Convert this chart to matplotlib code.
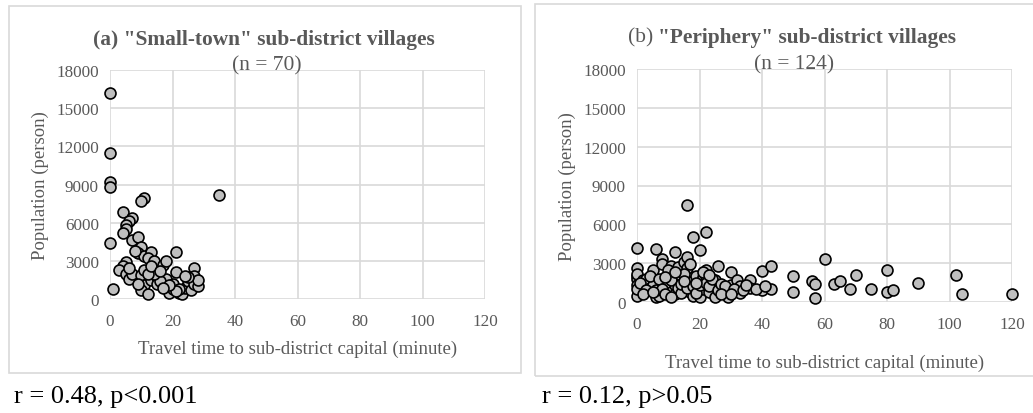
import numpy as np
import matplotlib.pyplot as plt
from matplotlib.patches import Rectangle

plt.rcParams['font.family'] = ['Liberation Serif', 'DejaVu Serif']

# ------------------------------------------------------
# DATA
# ------------------------------------------------------

# (a) Small-town sub-district villages (n = 70)
timeA = [0, 0, 0, 0, 0, 1, 35, 11, 10, 4, 7, 6, 5, 5, 4, 7, 9, 10, 9, 11,
         13, 12, 14, 17, 18, 21, 5, 4, 3, 5, 6, 7, 10, 11, 11, 10, 12, 13, 15, 15,
         18, 19, 20, 20, 21, 22, 23, 24, 25, 26, 26, 27, 27, 27, 28, 28, 25, 22, 21, 16,
         14, 12, 8, 13, 16, 19, 17, 9, 24, 6]
popA = [16200, 11500, 9200, 8800, 4400, 800, 8200, 7900, 7700, 6800, 6400, 6100, 5800, 5500, 5200, 4600, 4900, 4100, 3600, 3400,
        3700, 3200, 3000, 2700, 3000, 3700, 2900, 2600, 2300, 2000, 1600, 2000, 1900, 2300, 1100, 700, 400, 1500, 1700, 1200,
        1600, 500, 800, 1200, 2100, 500, 400, 900, 1400, 700, 1700, 2400, 1800, 1200, 1000, 1500, 1700, 800, 600, 1400,
        2000, 2000, 3800, 2600, 2200, 1100, 900, 1200, 1800, 2400]

# (b) Periphery sub-district villages (n = 124)
timeB = [0, 0, 0, 0, 0, 0, 0, 0, 2, 3, 4, 5, 5, 6, 6, 7, 7, 6, 8, 8,
         9, 10, 10, 11, 12, 12, 11, 13, 13, 14, 15, 15, 16, 16, 16, 17, 17, 18, 18, 18,
         19, 20, 20, 21, 21, 22, 22, 22, 23, 25, 25, 25, 26, 28, 29, 30, 30, 32, 33, 33,
         36, 36, 40, 40, 43, 43, 50, 50, 56, 57, 57, 60, 63, 65, 68, 70, 75, 80, 80, 82,
         90, 102, 104, 120, 1, 3, 4, 7, 8, 9, 10, 11, 12, 13, 14, 14, 15, 16, 17, 18,
         19, 20, 21, 22, 23, 24, 26, 27, 28, 31, 34, 2, 5, 9, 12, 15, 19, 23, 27, 30,
         35, 38, 41, 11]
popB = [4200, 2600, 2000, 1800, 1300, 500, 1000, 2200, 1700, 1800, 1100, 2500, 1300, 4100, 400, 700, 500, 900, 3300, 2900,
        1200, 2100, 1500, 800, 3900, 1300, 2800, 2700, 1800, 2000, 3100, 900, 7500, 3500, 2600, 1500, 800, 5000, 1600, 500,
        2000, 4000, 400, 1900, 1000, 5400, 2500, 2000, 800, 1700, 1200, 400, 2800, 800, 400, 2300, 1300, 1700, 1200, 700,
        1700, 1100, 2400, 900, 2800, 1000, 2000, 800, 1600, 1400, 300, 3300, 1400, 1600, 1000, 2100, 1000, 2500, 800, 900,
        1500, 2100, 600, 600, 1500, 900, 2000, 1800, 1000, 600, 2500, 1700, 600, 1100, 700, 1400, 2200, 1100, 2900, 1200,
        700, 1300, 2300, 1500, 1200, 1800, 900, 1400, 1200, 1000, 900, 600, 800, 1900, 2300, 1600, 1500, 2100, 600, 600,
        1300, 1000, 1200, 400]

xticks = [0, 20, 40, 60, 80, 100, 120]
yticks = [0, 3000, 6000, 9000, 12000, 15000, 18000]

grey = '#595959'
gridc = '#D9D9D9'

fig = plt.figure(figsize=(10.33, 4.14), dpi=100)

# Outer chart frames
fig.add_artist(Rectangle((9/1033, 1-374/414), 512/1033, 367/414, transform=fig.transFigure,
                         fill=False, edgecolor=gridc, linewidth=1.2))
fig.add_artist(Rectangle((535/1033, 1-377/414), 510/1033, 372/414, transform=fig.transFigure,
                         fill=False, edgecolor=gridc, linewidth=1.2))

ax1 = fig.add_axes([110/1033, 1-300/414, 375/1033, 229/414])
ax2 = fig.add_axes([637/1033, 1-303/414, 375/1033, 233/414])

for ax, x, y in [(ax1, timeA, popA), (ax2, timeB, popB)]:
    ax.scatter(x, y, s=62, facecolor='#BFBFBF', edgecolor='black', linewidth=1.2, zorder=3, clip_on=False)
    ax.set_xlim(0, 120)
    ax.set_ylim(0, 18000)
    ax.set_xticks(xticks)
    ax.set_yticks(yticks)
    ax.grid(True, color=gridc, linewidth=1.2)
    ax.set_axisbelow(True)
    for s in ax.spines.values():
        s.set_visible(False)
    ax.tick_params(length=0, labelsize=12.3, colors=grey, pad=8)
    ax.tick_params(axis='x', pad=10)
    ax.set_ylabel('Population (person)', fontsize=13.5, color=grey, labelpad=5)

ax1.set_xlabel('Travel time to sub-district capital (minute)', fontsize=13.5, color=grey, labelpad=8)
ax2.set_xlabel('Travel time to sub-district capital (minute)', fontsize=13.5, color=grey, labelpad=16)

# Titles
fig.text(264/1033, 1-40/414, '(a) "Small-town" sub-district villages', ha='center', va='center',
         fontsize=15.4, fontweight='bold', color=grey)
fig.text(267/1033, 1-66/414, '(n = 70)', ha='center', va='center', fontsize=15.5, color=grey)

# Title (b): normal "(b)" followed by bold text, centred as a whole
t1 = fig.text(0, 1-38/414, '(b) ', ha='left', va='center', fontsize=15.4, color=grey)
t2 = fig.text(0, 1-38/414, '"Periphery" sub-district villages', ha='left', va='center',
              fontsize=15.4, fontweight='bold', color=grey)
fig.canvas.draw()
w1 = t1.get_window_extent().width
w2 = t2.get_window_extent().width
x0 = 792 - (w1 + w2) / 2
t1.set_x(x0/1033)
t2.set_x((x0 + w1)/1033)
fig.text(794/1033, 1-65/414, '(n = 124)', ha='center', va='center', fontsize=15.5, color=grey)

# Correlation notes
fig.text(14/1033, 1-397/414, 'r = 0.48, p<0.001', ha='left', va='center', fontsize=19, color='black')
fig.text(542/1033, 1-397/414, 'r = 0.12, p>0.05', ha='left', va='center', fontsize=19, color='black')

fig.savefig('out.png', dpi=100)
